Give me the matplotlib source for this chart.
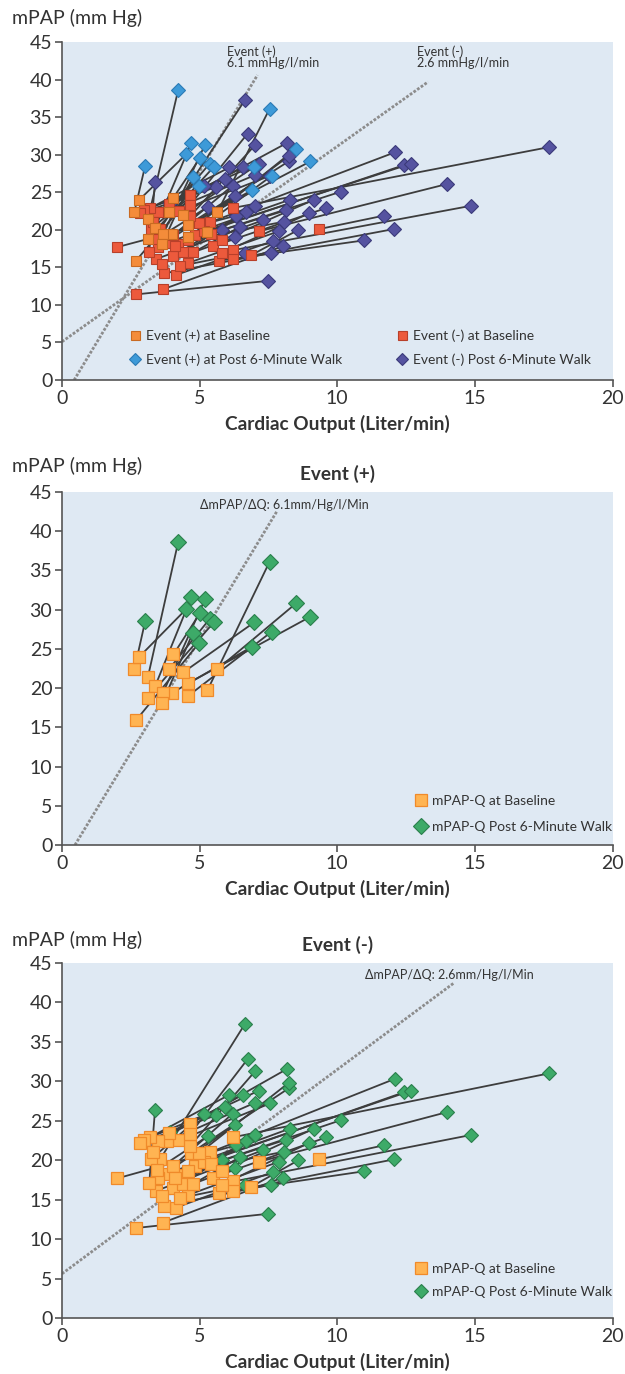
import numpy as np
import matplotlib.pyplot as plt

plt.rcParams['font.family'] = ['Lato', 'DejaVu Sans']

# Event (+) patients: baseline -> post 6-minute walk
pos_base_x = [3.12, 2.63, 2.81, 5.28, 5.64, 4.57, 4.40, 4.58, 4.00, 3.39, 3.67, 4.05, 3.88, 3.12, 3.64, 2.69]
pos_base_y = [21.4, 22.4, 24.0, 19.7, 22.4, 20.6, 22.0, 19.0, 19.4, 20.3, 19.4, 24.3, 22.4, 18.8, 18.1, 15.9]
pos_post_x = [4.22, 3.02, 4.52, 7.54, 8.50, 9.02, 6.99, 7.62, 6.91, 4.70, 5.19, 5.02, 5.36, 5.52, 4.75, 4.99]
pos_post_y = [38.6, 28.5, 30.1, 36.1, 30.8, 29.1, 28.4, 27.2, 25.3, 31.6, 31.3, 29.6, 28.8, 28.4, 27.0, 25.8]

# Event (-) patients
neg_base_x = [6.20, 5.38, 4.84, 5.16, 7.16, 6.23, 9.34, 6.23, 5.72, 2.68,
              5.41, 5.48, 5.81, 5.81, 6.86, 3.83, 4.21, 4.56, 4.59, 3.68,
              4.15, 3.71, 3.41, 4.05, 4.41, 2.01, 4.77, 3.62, 4.30, 4.25,
              3.83, 3.87, 3.47, 4.65, 4.68, 4.99, 4.65, 4.65, 4.05, 3.50,
              3.56, 3.20, 2.98, 2.84, 3.22, 3.44, 4.10, 3.17, 3.30]
neg_base_y = [22.9, 21.0, 19.3, 19.8, 19.8, 17.3, 20.1, 16.1, 15.9, 11.4,
              19.5, 17.8, 18.6, 16.9, 16.6, 18.3, 18.1, 18.6, 15.6, 12.1,
              14.0, 14.2, 16.1, 16.5, 17.0, 17.7, 17.0, 15.5, 15.2, 22.5,
              22.4, 23.5, 22.4, 24.6, 20.9, 20.9, 21.8, 23.3, 19.3, 17.7,
              20.1, 22.9, 22.6, 22.2, 20.1, 18.8, 17.8, 17.1, 21.0]
neg_post_x = [17.68, 12.08, 12.41, 12.67, 13.99, 14.86, 11.71, 12.05, 10.98, 7.47,
              10.15, 9.60, 9.15, 8.98, 8.59, 8.27, 8.13, 8.08, 7.87, 8.02,
              7.66, 7.59, 7.32, 7.00, 6.69, 6.33, 6.47, 6.28, 6.65, 7.56,
              7.02, 7.14, 6.57, 8.19, 8.23, 8.23, 7.02, 6.74, 6.20, 6.29,
              6.65, 6.08, 5.93, 5.60, 5.16, 5.32, 5.81, 3.38, 3.93]
neg_post_y = [31.0, 30.3, 28.6, 28.8, 26.1, 23.2, 21.9, 20.1, 18.6, 13.2,
              25.1, 22.9, 24.0, 22.2, 20.0, 24.0, 22.6, 21.1, 19.8, 17.8,
              18.5, 16.9, 21.3, 23.2, 22.4, 21.9, 20.4, 19.0, 16.9, 27.2,
              27.3, 28.8, 28.3, 31.6, 29.1, 29.8, 31.3, 32.8, 25.9, 24.5,
              37.3, 28.3, 26.8, 25.7, 25.9, 23.1, 20.0, 26.4, 23.6]

# dotted reference lines (x endpoints, y endpoints)
ref_pos_top = ([0.44, 7.1], [0.0, 40.6])
ref_neg_top = ([0.0, 13.3], [5.1, 39.7])
ref_pos = ([0.47, 7.8], [0.0, 42.5])
ref_neg = ([0.0, 14.25], [5.6, 42.5])

bg = '#dfe9f3'
txt = '#333333'
line_c = '#3d3d3d'
dots = (0, (1, 0.6))


def setup(ax):
    ax.set_facecolor(bg)
    ax.set_xlim(0, 20)
    ax.set_ylim(0, 45)
    ax.set_xticks([0, 5, 10, 15, 20])
    ax.set_yticks(range(0, 46, 5))
    for s in ['top', 'right']:
        ax.spines[s].set_visible(False)
    for s in ['left', 'bottom']:
        ax.spines[s].set_color('#555555')
        ax.spines[s].set_linewidth(1.2)
    ax.tick_params(direction='out', length=5, width=1.2, color='#555555',
                   labelsize=14, labelcolor=txt, pad=2)
    ax.set_xlabel('Cardiac Output (Liter/min)', fontsize=13.7, fontweight='bold',
                  color=txt, labelpad=6)


def pairs(ax, bx, by, px, py):
    for x0, y0, x1, y1 in zip(bx, by, px, py):
        ax.plot([x0, x1], [y0, y1], color=line_c, lw=1.3, zorder=2)


fig = plt.figure(figsize=(6.25, 13.74), dpi=100)
L, W = 0.0992, 0.8808
ax1 = fig.add_axes([L, 0.7234, W, 0.2460])
ax2 = fig.add_axes([L, 0.3850, W, 0.2569])
ax3 = fig.add_axes([L, 0.0408, W, 0.2583])

# ---- panel 1: both groups
setup(ax1)
ax1.plot(*ref_pos_top, ls=dots, color='#8c8c8c', lw=2, zorder=1)
ax1.plot(*ref_neg_top, ls=dots, color='#8c8c8c', lw=2, zorder=1)
pairs(ax1, neg_base_x, neg_base_y, neg_post_x, neg_post_y)
pairs(ax1, pos_base_x, pos_base_y, pos_post_x, pos_post_y)
h_np, = ax1.plot(neg_post_x, neg_post_y, ls='none', marker='D', ms=6.8, mfc='#5553a0',
                 mec='#3b3a7a', mew=0.8, zorder=3, label='Event (-) Post 6-Minute Walk')
h_pp, = ax1.plot(pos_post_x, pos_post_y, ls='none', marker='D', ms=6.8, mfc='#3d9ad8',
                 mec='#2b7bb5', mew=0.8, zorder=3, label='Event (+) at Post 6-Minute Walk')
h_nb, = ax1.plot(neg_base_x, neg_base_y, ls='none', marker='s', ms=7.2, mfc='#ec5a3c',
                 mec='#b8402a', mew=0.8, zorder=4, label='Event (-) at Baseline')
h_pb, = ax1.plot(pos_base_x, pos_base_y, ls='none', marker='s', ms=7.2, mfc='#f48c3a',
                 mec='#c96a22', mew=0.8, zorder=5, label='Event (+) at Baseline')
ax1.legend(handles=[h_pb, h_pp, h_nb, h_np], ncol=2, loc='lower left',
           bbox_to_anchor=(0.10, 0.005), frameon=False, fontsize=10, markerscale=0.9,
           handlelength=0.8, handletextpad=0.4, columnspacing=3.9, labelspacing=0.85,
           labelcolor=txt)
ax1.text(6.0, 41.4, 'Event (+)\n6.1 mmHg/l/min', fontsize=9, color=txt, va='bottom',
         linespacing=0.95)
ax1.text(12.9, 41.4, 'Event (-)\n2.6 mmHg/l/min', fontsize=9, color=txt, va='bottom',
         linespacing=0.95)

# ---- panel 2: Event (+)
setup(ax2)
ax2.plot(*ref_pos, ls=dots, color='#8c8c8c', lw=2, zorder=1)
pairs(ax2, pos_base_x, pos_base_y, pos_post_x, pos_post_y)
g_post, = ax2.plot(pos_post_x, pos_post_y, ls='none', marker='D', ms=7.8, mfc='#3daa68',
                   mec='#2a7f4c', mew=0.8, zorder=3, label='mPAP-Q Post 6-Minute Walk')
g_base, = ax2.plot(pos_base_x, pos_base_y, ls='none', marker='s', ms=8.2, mfc='#ffb452',
                   mec='#f08a2a', mew=0.9, zorder=4, label='mPAP-Q at Baseline')
ax2.legend(handles=[g_base, g_post], loc='lower left', bbox_to_anchor=(0.62, 0.0),
           frameon=False, fontsize=10, markerscale=1.0, handlelength=0.8,
           handletextpad=0.4, labelspacing=0.95, labelcolor=txt)
ax2.text(5.0, 43.4, '\u0394mPAP/\u0394Q: 6.1mm/Hg/l/Min', fontsize=9, color=txt,
         va='center')
ax2.set_title('Event (+)', fontsize=13.7, fontweight='bold', color=txt, pad=9)

# ---- panel 3: Event (-)
setup(ax3)
ax3.plot(*ref_neg, ls=dots, color='#8c8c8c', lw=2, zorder=1)
pairs(ax3, neg_base_x, neg_base_y, neg_post_x, neg_post_y)
g_post, = ax3.plot(neg_post_x, neg_post_y, ls='none', marker='D', ms=7.5, mfc='#3daa68',
                   mec='#2a7f4c', mew=0.8, zorder=3, label='mPAP-Q Post 6-Minute Walk')
g_base, = ax3.plot(neg_base_x, neg_base_y, ls='none', marker='s', ms=8.0, mfc='#ffb452',
                   mec='#f08a2a', mew=0.9, zorder=4, label='mPAP-Q at Baseline')
ax3.legend(handles=[g_base, g_post], loc='lower left', bbox_to_anchor=(0.62, 0.022),
           frameon=False, fontsize=10, markerscale=1.0, handlelength=0.8,
           handletextpad=0.4, labelspacing=0.8, labelcolor=txt)
ax3.text(11.0, 43.5, '\u0394mPAP/\u0394Q: 2.6mm/Hg/l/Min', fontsize=9, color=txt,
         va='center')
ax3.set_title('Event (-)', fontsize=13.7, fontweight='bold', color=txt, pad=9)

# y axis captions above each panel
for yy in [1 - 18 / 1374, 1 - 466 / 1374, 1 - 940 / 1374]:
    fig.text(12 / 625, yy, 'mPAP (mm Hg)', fontsize=14, color=txt, va='center')

fig.savefig('out.png', dpi=100, facecolor='white')
plt.close(fig)
